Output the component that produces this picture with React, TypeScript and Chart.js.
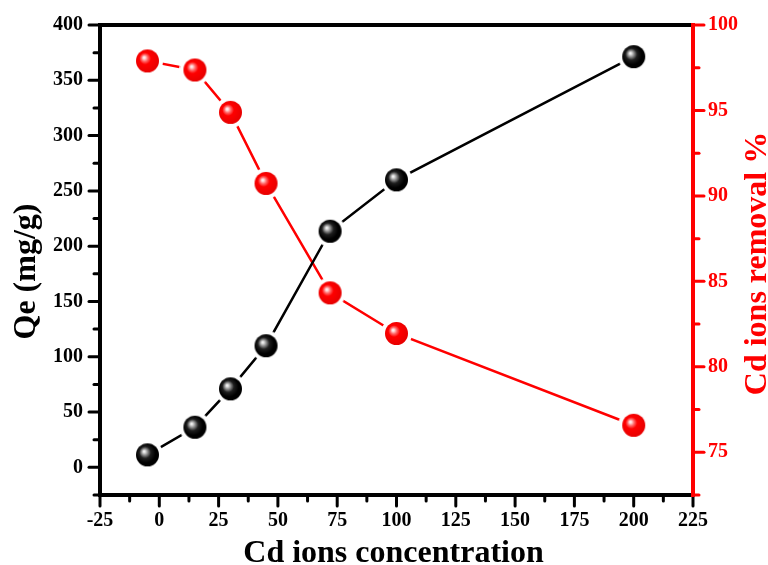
import React, { useEffect, useRef } from "react";
import { Chart, registerables } from "chart.js";

Chart.register(...registerables);

// ---- data ----
const concentration = [-5, 15, 30, 45, 72, 100, 200];
const qeValues = [11.3, 36.3, 71, 110, 213.5, 260, 371.4];
const removalValues = [97.9, 97.37, 94.89, 90.73, 84.33, 81.95, 76.58];

const xMajorTicks = [-25, 0, 25, 50, 75, 100, 125, 150, 175, 200, 225];
const xMinorTicks = [-12.5, 12.5, 37.5, 62.5, 87.5, 112.5, 137.5, 162.5, 187.5, 212.5];
const qeMajorTicks = [0, 50, 100, 150, 200, 250, 300, 350, 400];
const qeMinorTicks = [-25, 25, 75, 125, 175, 225, 275, 325, 375];
const removalMajorTicks = [75, 80, 85, 90, 95, 100];
const removalMinorTicks = [72.5, 77.5, 82.5, 87.5, 92.5, 97.5];

const xTitle = "Cd ions concentration";
const qeTitle = "Qe (mg/g)";
const removalTitle = "Cd ions removal %";

const SERIF = "'Liberation Serif', 'Times New Roman', serif";
const RED = "#ff0000";

function makeSphere(kind: "black" | "red"): HTMLCanvasElement {
  const r = 11.5;
  const halo = 4;
  const size = 31;
  const c = document.createElement("canvas");
  c.width = size;
  c.height = size;
  const g = c.getContext("2d")!;
  const cx = size / 2;
  const cy = size / 2;
  g.fillStyle = "#ffffff";
  g.beginPath();
  g.arc(cx, cy, r + halo, 0, Math.PI * 2);
  g.fill();
  const grad = g.createRadialGradient(cx - 3.5, cy - 3.5, 0, cx - 1, cy - 1, r + 1.5);
  if (kind === "black") {
    grad.addColorStop(0, "#ffffff");
    grad.addColorStop(0.08, "#e6e6e6");
    grad.addColorStop(0.22, "#9a9a9a");
    grad.addColorStop(0.45, "#1e1e1e");
    grad.addColorStop(0.75, "#000000");
    grad.addColorStop(1, "#000000");
  } else {
    grad.addColorStop(0, "#ffffff");
    grad.addColorStop(0.1, "#ffd6d6");
    grad.addColorStop(0.25, "#ff6a6a");
    grad.addColorStop(0.45, "#ff0000");
    grad.addColorStop(1, "#e60000");
  }
  g.fillStyle = grad;
  g.beginPath();
  g.arc(cx, cy, r, 0, Math.PI * 2);
  g.fill();
  return c;
}

const framePlugin = {
  id: "originFrame",
  afterDraw(chart: any) {
    const { ctx, chartArea } = chart;
    const { left, right, top, bottom } = chartArea;
    const sx = chart.scales.x;
    const sy = chart.scales.y;
    const sy1 = chart.scales.y1;
    ctx.save();
    ctx.lineCap = "round";
    ctx.lineWidth = 3;
    const line = (x1: number, y1: number, x2: number, y2: number, color: string) => {
      ctx.strokeStyle = color;
      ctx.beginPath();
      ctx.moveTo(x1, y1);
      ctx.lineTo(x2, y2);
      ctx.stroke();
    };
    xMajorTicks.forEach((v) => {
      const p = sx.getPixelForValue(v);
      line(p, bottom, p, bottom + 11, "#000");
    });
    xMinorTicks.forEach((v) => {
      const p = sx.getPixelForValue(v);
      line(p, bottom, p, bottom + 6, "#000");
    });
    qeMajorTicks.forEach((v) => {
      const p = sy.getPixelForValue(v);
      line(left, p, left - 11, p, "#000");
    });
    qeMinorTicks.forEach((v) => {
      const p = sy.getPixelForValue(v);
      line(left, p, left - 6, p, "#000");
    });
    removalMajorTicks.forEach((v) => {
      const p = sy1.getPixelForValue(v);
      line(right, p, right + 11, p, RED);
    });
    removalMinorTicks.forEach((v) => {
      const p = sy1.getPixelForValue(v);
      line(right, p, right + 6, p, RED);
    });
    ctx.lineCap = "square";
    ctx.lineWidth = 4;
    line(left, top, right, top, "#000");
    line(left, bottom, right, bottom, "#000");
    line(left, top, left, bottom, "#000");
    line(right, top, right, bottom, RED);

    ctx.font = `bold 32px ${SERIF}`;
    ctx.textBaseline = "alphabetic";
    ctx.textAlign = "center";
    ctx.fillStyle = "#000";
    ctx.fillText(xTitle, 393.5, 562);

    ctx.save();
    ctx.translate(35, 271.5);
    ctx.rotate(-Math.PI / 2);
    ctx.fillStyle = "#000";
    ctx.fillText(qeTitle, 0, 0);
    ctx.restore();

    ctx.save();
    ctx.translate(766, 263.5);
    ctx.rotate(-Math.PI / 2);
    ctx.fillStyle = RED;
    ctx.fillText(removalTitle, 0, 0);
    ctx.restore();

    ctx.restore();
  },
};

export default function App() {
  const ref = useRef<HTMLCanvasElement | null>(null);

  useEffect(() => {
    if (!ref.current) return;
    const blackSphere = makeSphere("black");
    const redSphere = makeSphere("red");
    const tickFont = { family: SERIF, size: 20, weight: "bold" as const };

    const chart = new Chart(ref.current, {
      type: "line",
      data: {
        datasets: [
          {
            label: qeTitle,
            data: concentration.map((x, i) => ({ x, y: qeValues[i] })),
            borderColor: "#000000",
            backgroundColor: "#000000",
            borderWidth: 2.5,
            pointStyle: blackSphere as any,
            pointRadius: 12,
            tension: 0,
            yAxisID: "y",
          },
          {
            label: removalTitle,
            data: concentration.map((x, i) => ({ x, y: removalValues[i] })),
            borderColor: RED,
            backgroundColor: RED,
            borderWidth: 2.5,
            pointStyle: redSphere as any,
            pointRadius: 12,
            tension: 0,
            yAxisID: "y1",
          },
        ],
      },
      options: {
        animation: false,
        responsive: true,
        maintainAspectRatio: false,
        layout: { padding: { top: 25, left: 0, right: 0, bottom: 0 } },
        plugins: {
          legend: { display: false },
          tooltip: { enabled: false },
        },
        scales: {
          x: {
            type: "linear",
            position: "bottom",
            min: -25,
            max: 225,
            afterBuildTicks: (s: any) => {
              s.ticks = xMajorTicks.map((v) => ({ value: v }));
            },
            afterFit: (s: any) => {
              s.height = 70;
            },
            grid: { display: false, drawTicks: false },
            border: { display: false },
            ticks: { font: tickFont, color: "#000", padding: 14, maxRotation: 0, autoSkip: false },
          },
          y: {
            type: "linear",
            position: "left",
            min: -25,
            max: 400,
            afterBuildTicks: (s: any) => {
              s.ticks = qeMajorTicks.map((v) => ({ value: v }));
            },
            afterFit: (s: any) => {
              s.width = 100;
              s.paddingTop = 0;
              s.paddingBottom = 0;
            },
            grid: { display: false, drawTicks: false },
            border: { display: false },
            ticks: { font: tickFont, color: "#000", padding: 17, autoSkip: false },
          },
          y1: {
            type: "linear",
            position: "right",
            min: 72.5,
            max: 100,
            afterBuildTicks: (s: any) => {
              s.ticks = removalMajorTicks.map((v) => ({ value: v }));
            },
            afterFit: (s: any) => {
              s.width = 75;
              s.paddingTop = 0;
              s.paddingBottom = 0;
            },
            grid: { display: false, drawTicks: false },
            border: { display: false },
            ticks: { font: tickFont, color: RED, padding: 15, autoSkip: false },
          },
        },
      },
      plugins: [framePlugin],
    });
    return () => chart.destroy();
  }, []);

  return (
    <div
      style={{
        position: "fixed",
        left: 0,
        top: 0,
        width: 768,
        height: 565,
        background: "#ffffff",
      }}
    >
      <canvas ref={ref} />
    </div>
  );
}
